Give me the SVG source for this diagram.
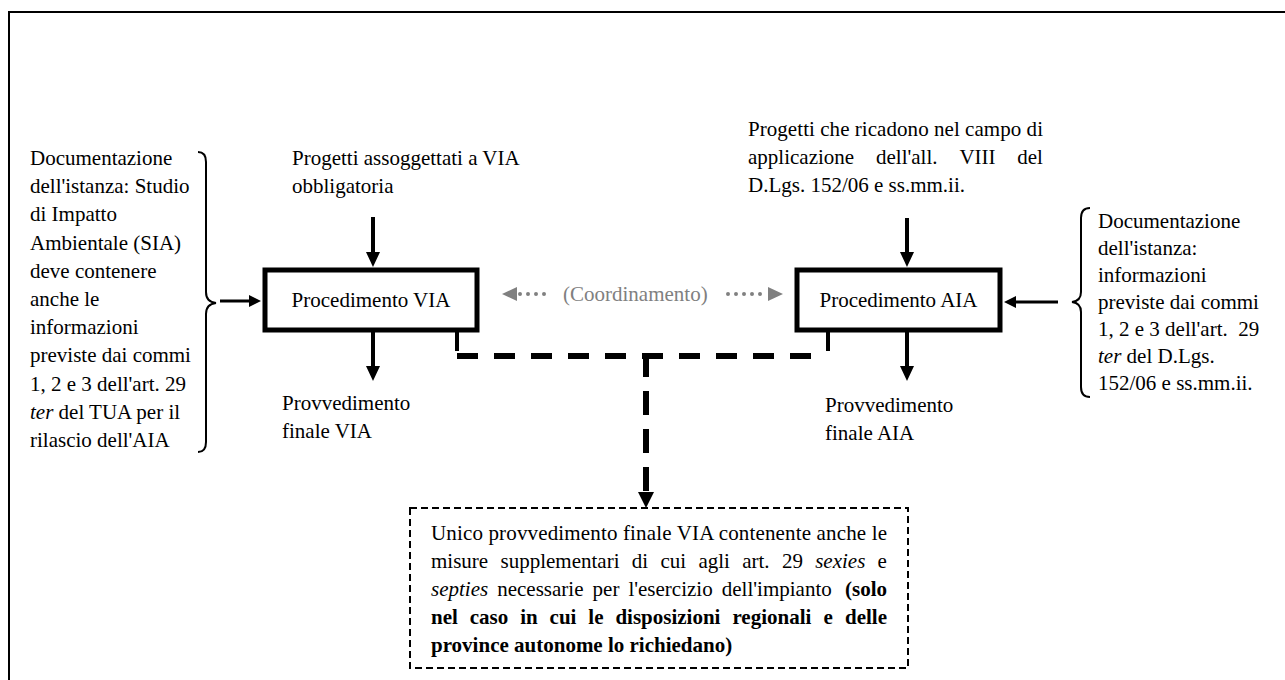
<svg xmlns="http://www.w3.org/2000/svg" width="1285" height="680" viewBox="0 0 1285 680">
  <defs>
    <style>
      text { font-family: "Liberation Serif", "Times New Roman", serif; font-size: 21px; fill: #000; }
      .it { font-style: italic; }
      .b { font-weight: bold; }
      .gray { fill: #808080; }
      .mid { text-anchor: middle; }
      .box { fill: #fff; stroke: #000; stroke-width: 5; }
      .shaft { stroke: #000; stroke-width: 4; fill: none; }
      .thin { stroke: #000; stroke-width: 3; fill: none; }
      .brace { stroke: #000; stroke-width: 2; fill: none; }
      .dash { stroke: #000; stroke-width: 6; fill: none; }
      .dots { stroke: #808080; stroke-width: 4; stroke-linecap: round; stroke-dasharray: 0 8; fill: none; }
    </style>
    <marker id="ah" viewBox="0 -7 15 14" refX="1" refY="0" markerWidth="15" markerHeight="14" markerUnits="userSpaceOnUse" orient="auto">
      <path d="M0,-7 L15,0 L0,7 z" fill="#000"/>
    </marker>
    <marker id="ahs" viewBox="0 -6 12 12" refX="1" refY="0" markerWidth="12" markerHeight="12" markerUnits="userSpaceOnUse" orient="auto">
      <path d="M0,-6 L12,0 L0,6 z" fill="#000"/>
    </marker>
  </defs>

  <rect width="1285" height="680" fill="#fff"/>
  <!-- page frame (top and left edges) -->
  <path d="M9,680 V12 H1285" fill="none" stroke="#000" stroke-width="2"/>

  <!-- documentation for the VIA procedure -->
  <g id="doc-via">
    <text x="30" y="165">Documentazione</text>
    <text x="30" y="193.2">dell'istanza: Studio</text>
    <text x="30" y="221.4">di Impatto</text>
    <text x="30" y="249.6">Ambientale (SIA)</text>
    <text x="30" y="277.8">deve contenere</text>
    <text x="30" y="306">anche le</text>
    <text x="30" y="334.2">informazioni</text>
    <text x="30" y="362.4">previste dai commi</text>
    <text x="30" y="390.6">1, 2 e 3 dell'art. 29</text>
    <text x="30" y="418.8"><tspan class="it">ter</tspan> del TUA per il</text>
    <text x="30" y="447">rilascio dell'AIA</text>
    <path class="brace" d="M198,152 Q206,152 206,162 L206,292 Q206,302 216,303 Q206,304 206,314 L206,442 Q206,452 198,452"/>
  </g>

  <g id="input-via">
    <text x="292" y="165">Progetti assoggettati a VIA</text>
    <text x="292" y="193">obbligatoria</text>
  </g>

  <g id="proc-via">
    <rect class="box" x="265" y="270" width="212" height="60"/>
    <text class="mid" x="371" y="307">Procedimento VIA</text>
  </g>

  <g id="out-via">
    <text x="282" y="410">Provvedimento</text>
    <text x="282" y="438">finale VIA</text>
  </g>

  <g id="input-aia">
    <text x="748" y="136" textLength="295" lengthAdjust="spacing">Progetti che ricadono nel campo di</text>
    <text y="164"><tspan x="748">applicazione</tspan><tspan x="876">dell'all.</tspan><tspan x="959.4">VIII</tspan><tspan x="1017.3">del</tspan></text>
    <text x="748" y="192">D.Lgs. 152/06 e ss.mm.ii.</text>
  </g>

  <g id="proc-aia">
    <rect class="box" x="797" y="270" width="203" height="60"/>
    <text class="mid" x="898.5" y="307">Procedimento AIA</text>
  </g>

  <g id="out-aia">
    <text x="825" y="412">Provvedimento</text>
    <text x="825" y="440">finale AIA</text>
  </g>

  <!-- documentation for the AIA procedure -->
  <g id="doc-aia">
    <path class="brace" d="M1090,208 Q1081,208 1081,218 L1081,292 Q1081,301 1072,302 Q1081,303 1081,312 L1081,387 Q1081,397 1090,397"/>
    <text x="1098" y="228">Documentazione</text>
    <text x="1098" y="255">dell'istanza:</text>
    <text x="1098" y="282">informazioni</text>
    <text x="1098" y="309">previste dai commi</text>
    <text x="1098" y="336">1, 2 e 3 dell'art. <tspan dx="5.25">29</tspan></text>
    <text x="1098" y="363"><tspan class="it">ter</tspan> del D.Lgs.</text>
    <text x="1098" y="390">152/06 e ss.mm.ii.</text>
  </g>

  <!-- single final measure -->
  <g id="final">
    <rect x="410" y="508" width="498" height="160" fill="#fff" stroke="#000" stroke-width="2" stroke-dasharray="7 4"/>
    <text x="431" y="540" textLength="456" lengthAdjust="spacing">Unico provvedimento finale VIA contenente anche le</text>
    <text y="568"><tspan x="431">misure</tspan><tspan x="500.5">supplementari</tspan><tspan x="631.8">di</tspan><tspan x="660.4">cui</tspan><tspan x="698.4">agli</tspan><tspan x="742.2">art.</tspan><tspan x="781.9">29</tspan><tspan x="815.2" class="it">sexies</tspan><tspan x="877.6">e</tspan></text>
    <text y="596"><tspan x="431" class="it">septies</tspan><tspan x="497.2">necessarie</tspan><tspan x="592.6">per</tspan><tspan x="628.4">l'esercizio</tspan><tspan x="721.8">dell'impianto</tspan><tspan x="845" class="b">(solo</tspan></text>
    <text y="624" class="b"><tspan x="431">nel</tspan><tspan x="469.7">caso</tspan><tspan x="520.2">in</tspan><tspan x="549.6">cui</tspan><tspan x="588.3">le</tspan><tspan x="615.4">disposizioni</tspan><tspan x="732.4">regionali</tspan><tspan x="823.6">e</tspan><tspan x="845">delle</tspan></text>
    <text x="431" y="652" class="b">province autonome lo richiedano)</text>
  </g>

  <g id="connectors">
    <line class="thin" x1="220" y1="301" x2="250" y2="301" marker-end="url(#ahs)"/>
    <line class="shaft" x1="373" y1="217" x2="373" y2="253" marker-end="url(#ah)"/>
    <line class="shaft" x1="373" y1="332" x2="373" y2="367" marker-end="url(#ah)"/>
    <line class="shaft" x1="907" y1="218" x2="907" y2="253" marker-end="url(#ah)"/>
    <line class="shaft" x1="907" y1="332" x2="907" y2="367" marker-end="url(#ah)"/>
    <line class="thin" x1="1058" y1="302" x2="1015" y2="302" marker-end="url(#ahs)"/>

    <!-- coordination link -->
    <g id="coord">
      <path class="dots" d="M520,294 H552"/>
      <path d="M502,294 L517,287 L517,301 z" fill="#808080"/>
      <text class="gray" x="563" y="301">(Coordinamento)</text>
      <path class="dots" d="M728,294 H766"/>
      <path d="M783,294 L768,287 L768,301 z" fill="#808080"/>
    </g>

    <!-- merge of the two procedures into the final measure -->
    <line class="shaft" x1="457" y1="331" x2="457" y2="351" stroke-width="5"/>
    <line class="shaft" x1="828" y1="331" x2="828" y2="351" stroke-width="5"/>
    <line class="dash" x1="457" y1="356" x2="815" y2="356" stroke-dasharray="21 16"/>
    <line class="dash" x1="646" y1="353" x2="646" y2="492" stroke-dasharray="24 14"/>
    <path d="M646,508 L638,492 L654,492 z" fill="#000"/>
  </g>
</svg>
